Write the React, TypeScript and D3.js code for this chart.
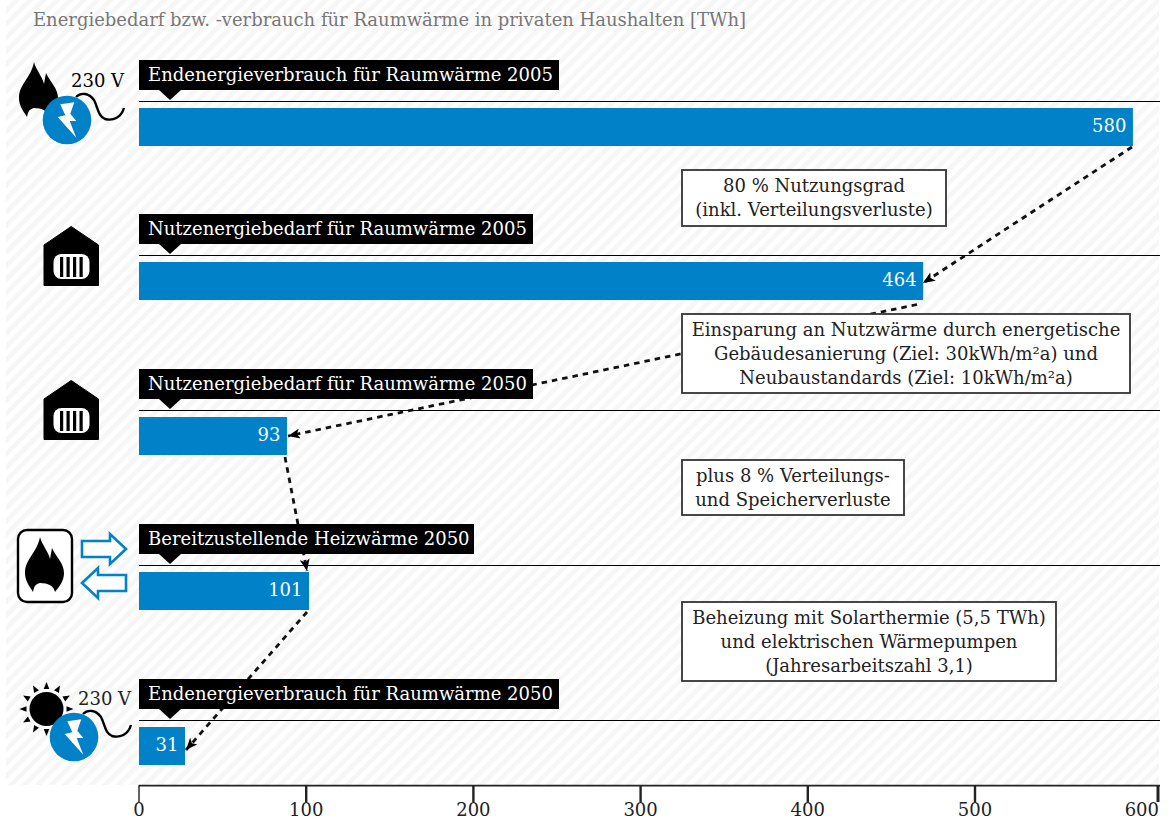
import React from "react";
import * as d3 from "d3";

const rowLabels = [
  "Endenergieverbrauch für Raumwärme 2005",
  "Nutzenergiebedarf für Raumwärme 2005",
  "Nutzenergiebedarf für Raumwärme 2050",
  "Bereitzustellende Heizwärme 2050",
  "Endenergieverbrauch für Raumwärme 2050",
];
const valueLabels = ["580", "464", "93", "101", "31"];
const drawnLengths = [586.3, 469, 88.5, 101.7, 27.5];
const tagWidths = [420, 394, 394, 335, 420];
const ticks = [0, 100, 200, 300, 400, 500, 600];
const title = "Energiebedarf bzw. -verbrauch für Raumwärme in privaten Haushalten [TWh]";
const notes = [
  { x: 682, y: 170, w: 264, h: 56, lines: ["80 % Nutzungsgrad", "(inkl. Verteilungsverluste)"] },
  { x: 682, y: 314, w: 448, h: 79, lines: ["Einsparung an Nutzwärme durch energetische", "Gebäudesanierung (Ziel: 30kWh/m²a) und", "Neubaustandards (Ziel: 10kWh/m²a)"] },
  { x: 682, y: 460, w: 222, h: 55, lines: ["plus 8 % Verteilungs-", "und Speicherverluste"] },
  { x: 682, y: 602, w: 374, h: 79, lines: ["Beheizung mit Solarthermie (5,5 TWh)", "und elektrischen Wärmepumpen", "(Jahresarbeitszahl 3,1)"] },
];
const arrows = [
  [[1132, 147], [923, 283]],
  [[917, 304.5], [288, 436]],
  [[285, 457], [307, 571]],
  [[307, 612], [186, 750]],
];

const FONT = "'DejaVu Serif', serif";
const BLUE = "#0081c8";
const FS = 18;
const x = d3.scaleLinear().domain([0, 500, 600]).range([139, 975, 1158]);
const rowY = d3.scaleLinear().domain([0, 4]).range([108, 727]);

const flame = "M0,0 C2,8 8,14 10,22 L12,11 C16,20 24,26 24,36 C24,44 19,50 15,55 C14,49 8,46 0,46 C-5,47 -6,50 -7,55 C-10,50 -15,44 -15,36 C-15,22 -3,16 0,0 Z";

const Flame = ({ tx, ty }: { tx: number; ty: number }) => (
  <path d={flame} transform={`translate(${tx},${ty})`} fill="#000" />
);

const Plug = ({ tx, ty }: { tx: number; ty: number }) => (
  <g transform={`translate(${tx},${ty})`}>
    <path d="M9,-23 C14,-28 22,-27 27,-20 C31,-12 31,-4 38,-1 C46,1 54,-2 57,-12" fill="none" stroke="#000" strokeWidth={2.4} />
    <circle cx={0} cy={0} r={24.3} fill={BLUE} />
    <path d="M-6.7,-15.7 L7.3,-17.7 L3.3,-6.3 L9.3,1 L2.7,1 L9.3,17.7 L-9.3,-3 L-1.7,-4.7 Z" fill="#fff" />
  </g>
);

const House = ({ tx, ty }: { tx: number; ty: number }) => (
  <g transform={`translate(${tx},${ty})`}>
    <path d="M27.7,0.5 L55,19 L55,59.5 L0.5,59.5 L0.5,19 Z" fill="#000" stroke="#000" strokeWidth={1} strokeLinejoin="round" />
    <rect x={10} y={28} width={36} height={25} rx={8} fill="#fff" />
    {[16.5, 23, 29.5, 36].map((bx) => (
      <rect key={bx} x={bx} y={31} width={3.2} height={20} fill="#000" />
    ))}
  </g>
);

const HollowArrow = ({ d }: { d: string }) => (
  <path d={d} fill="#fff" stroke={BLUE} strokeWidth={2.6} />
);

export default function App() {
  return (
    <svg width={1173} height={820} style={{ position: "absolute", left: 0, top: 0, background: "#fff" }} fontFamily={FONT}>
      <defs>
        <pattern id="hatch" width={9.5} height={10} patternUnits="userSpaceOnUse" patternTransform="rotate(45)">
          <rect width={9.5} height={10} fill="#fff" />
          <rect width={4.75} height={10} fill="#f6f6f6" />
        </pattern>
        <marker id="head" viewBox="0 0 12 10" refX={12} refY={5} markerWidth={12} markerHeight={10} orient="auto" markerUnits="userSpaceOnUse">
          <path d="M0,0 L12,5 L0,10 L3,5 Z" fill="#000" />
        </marker>
      </defs>
      <rect x={6} y={0} width={1153} height={785} fill="url(#hatch)" />
      <text x={33} y={26} fontSize={FS} fill="#777" textLength={713} lengthAdjust="spacingAndGlyphs">{title}</text>

      {rowLabels.map((label, i) => {
        const top = Math.floor(rowY(i));
        const bw = x(drawnLengths[i]) - x(0);
        return (
          <g key={label}>
            <line x1={139} x2={1160} y1={top - 6.5} y2={top - 6.5} stroke="#000" strokeWidth={1.2} />
            <rect x={139} y={top} width={bw} height={38} fill={BLUE} />
            <text x={139 + bw - 6.5} y={top + 24} textAnchor="end" fontSize={FS} fill="#fff">{valueLabels[i]}</text>
          </g>
        );
      })}

      {arrows.map((a, i) => (
        <line key={i} x1={a[0][0]} y1={a[0][1]} x2={a[1][0]} y2={a[1][1]} stroke="#111" strokeWidth={2.8} strokeDasharray="5.5 5" markerEnd="url(#head)" />
      ))}

      {rowLabels.map((label, i) => {
        const top = Math.floor(rowY(i));
        return (
          <g key={label + "-tag"}>
            <rect x={139} y={top - 48} width={tagWidths[i]} height={30} fill="#000" />
            <path d={`M159,${top - 18} L170,${top - 8} L181,${top - 18} Z`} fill="#000" />
            <text x={148} y={top - 27} fontSize={FS} fill="#fff">{label}</text>
          </g>
        );
      })}

      {notes.map((n) => (
        <g key={n.x + "-" + n.y}>
          <rect x={n.x} y={n.y} width={n.w} height={n.h} fill="#fff" stroke="#333" strokeWidth={1.8} />
          {n.lines.map((t, j) => (
            <text key={t} x={n.x + n.w / 2} y={n.y + 22 + j * 24} textAnchor="middle" fontSize={FS} fill="#222">{t}</text>
          ))}
        </g>
      ))}

      {/* Icons */}
      <Flame tx={34} ty={62} />
      <text x={71} y={87} fontSize={FS} fill="#000">230 V</text>
      <Plug tx={67} ty={120} />
      <House tx={43.5} ty={226} />
      <House tx={43.5} ty={380} />
      <rect x={18} y={530} width={54} height={72} rx={9} fill="#fff" stroke="#000" strokeWidth={2.4} />
      <Flame tx={40} ty={537} />
      <HollowArrow d="M82,541 L110,541 L110,534 L126,549 L110,564 L110,557 L82,557 Z" />
      <HollowArrow d="M126,575 L98,575 L98,568 L82,583 L98,598 L98,591 L126,591 Z" />
      <g>
        <circle cx={46.5} cy={709} r={17} fill="#000" />
        {d3.range(12).map((k) => (
          <path key={k} d="M-2.8,-20 L0,-27 L2.8,-20 Z" transform={`translate(46.5,709) rotate(${k * 30})`} fill="#000" />
        ))}
      </g>
      <text x={78} y={705} fontSize={FS} fill="#222">230 V</text>
      <Plug tx={74} ty={737} />

      {/* Axis */}
      <line x1={138.5} x2={1160} y1={785.7} y2={785.7} stroke="#222" strokeWidth={1.8} />
      {ticks.map((t, i) => (
        <g key={t}>
          <line x1={x(t)} x2={x(t)} y1={786} y2={802} stroke="#222" strokeWidth={i === 0 ? 1.4 : i === 6 ? 3 : 2.4} />
          <text x={i === ticks.length - 1 ? x(t) + 1 : x(t)} y={815.5} textAnchor={i === ticks.length - 1 ? "end" : "middle"} fontSize={FS} fill="#222">{t}</text>
        </g>
      ))}
    </svg>
  );
}
